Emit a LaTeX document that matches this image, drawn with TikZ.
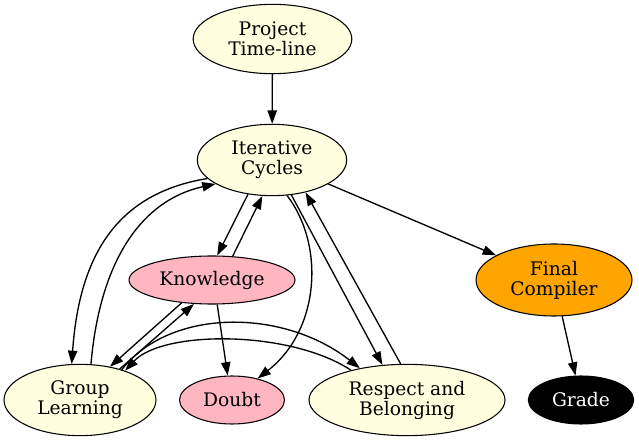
\documentclass[tikz,border=0pt]{standalone}
\usepackage{fontspec}
\setmainfont{DejaVu Serif}
\usetikzlibrary{shapes.geometric,arrows.meta}
\definecolor{cream}{HTML}{FFFFE0}
\definecolor{rosy}{HTML}{FFB6C1}
\definecolor{amber}{HTML}{FFA500}

\begin{document}
\begin{tikzpicture}[x=0.75pt, y=-0.75pt, line width=1pt,
    >={Triangle[length=10pt,width=7pt]},
    every node/.style={ellipse, draw, line width=0.8pt, inner sep=0pt, align=center,
        font=\fontsize{14}{15}\selectfont},
    topic/.style={fill=cream, minimum width=114pt, minimum height=53.5pt},
    feeling/.style={fill=rosy, minimum height=36pt}]
    \useasboundingbox (0,0) rectangle (639,441);

    % top and middle row
    \node[topic, minimum width=119pt, minimum height=52pt] (project) at (272.5,39) {Project\\Time-line};
    \node[topic, minimum width=112pt] (cycles) at (272,160) {Iterative\\Cycles};
    \node[feeling, minimum width=124.5pt] (knowledge) at (212,280) {Knowledge};
    \node[fill=amber, minimum width=117pt, minimum height=54pt] (final) at (554,280) {Final\\Compiler};

    % bottom row
    \node[topic] (group) at (80,400) {Group\\Learning};
    \node[feeling, minimum width=78.75pt] (doubt) at (232,400) {Doubt};
    \node[topic, minimum width=147pt] (respect) at (407,400) {Respect and\\Belonging};
    \node[fill=black, text=white, minimum width=79pt, minimum height=36pt] (grade) at (581,400) {Grade};

    \foreach \a/\b in {project/cycles, cycles/final, final/grade,
        cycles.-125/knowledge.78, knowledge.49/cycles.-105,
        cycles.-61/respect.125, respect.100/cycles.-44,
        knowledge.217/group.48, group.38/knowledge.233, knowledge.-78/doubt.100}
        \draw[->] (\a) -- (\b);

    % loops round the left side
    \draw[->] (cycles.196) .. controls (125,192) and (80,245) .. (group.103);
    \draw[->] (group.73) .. controls (100,260) and (142,200) .. (cycles.203);
    \draw[->] (cycles.-67) .. controls (325,245) and (320,330) .. (doubt.40);
    \draw[->] (group.36) .. controls (170,308) and (283,308) .. (respect.146);
    \draw[->] (respect.152) .. controls (290,330) and (163,330) .. (group.33);
\end{tikzpicture}
\end{document}
